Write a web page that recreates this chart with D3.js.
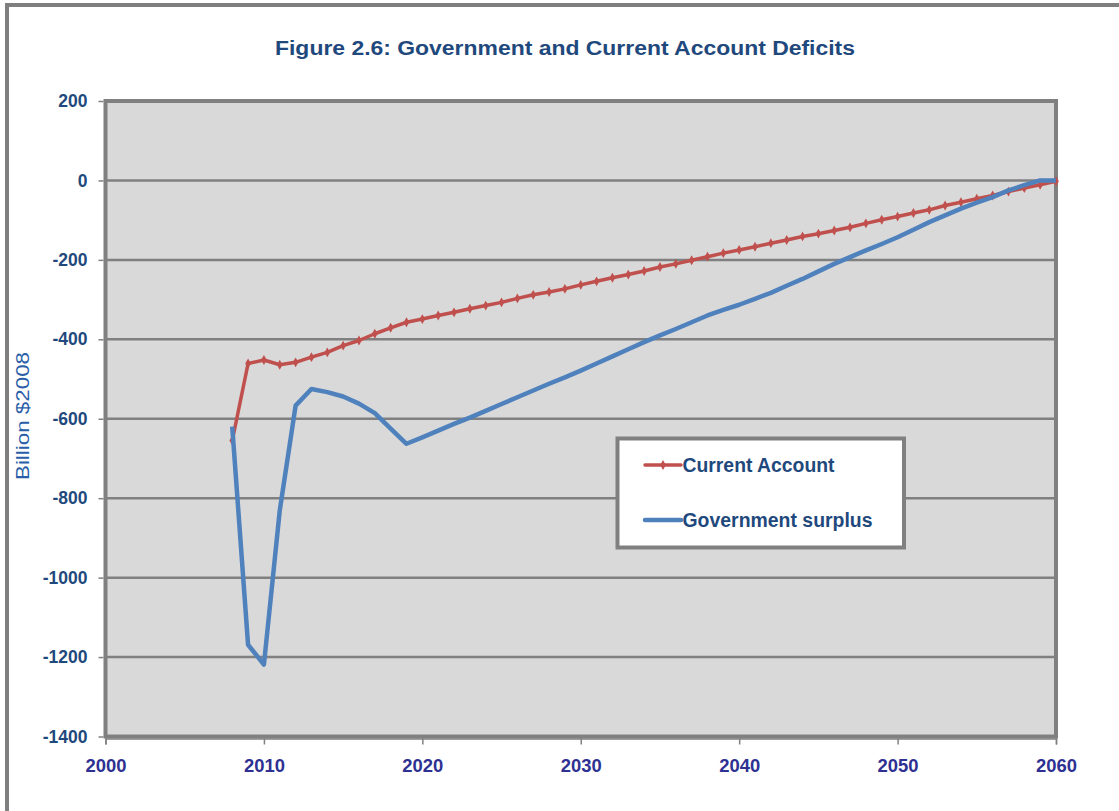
<!DOCTYPE html>
<html>
<head>
<meta charset="utf-8">
<script src="https://cdn.jsdelivr.net/npm/d3@7"></script>
<style>
html,body{margin:0;padding:0;background:#fff;}
svg{display:block;}
text{font-family:"Liberation Sans",Arial,sans-serif;}
</style>
</head>
<body>
<svg id="chart" width="1119" height="811"></svg>
<script>
const title = "Figure 2.6: Government and Current Account Deficits";
const yAxisTitle = "Billion $2008";
const seriesNames = ["Current Account", "Government surplus"];
const years = d3.range(2008, 2061);
const currentAccount = [
  -655, -461, -452, -464, -458, -445, -433, -416, -403, -386,
  -371, -357, -349, -340, -332, -323, -315, -307, -297, -288,
  -281, -273, -263, -254, -245, -237, -228, -218, -210, -201,
  -192, -183, -175, -167, -158, -150, -141, -134, -126, -118,
  -108, -99, -91, -82, -74, -63, -55, -46, -38, -28,
  -19, -11, -2
];
const govSurplus = [
  -620, -1169, -1219, -831, -567, -525, -533, -544, -562, -586,
  -625, -663, -647, -630, -613, -597, -580, -563, -546, -529,
  -512, -496, -479, -461, -443, -425, -407, -390, -374, -357,
  -340, -326, -313, -298, -283, -265, -248, -229, -210, -193,
  -176, -160, -143, -124, -105, -88, -71, -56, -42, -25,
  -12, 0, 0
];
const xTicks = [2000, 2010, 2020, 2030, 2040, 2050, 2060];
const yTicks = [200, 0, -200, -400, -600, -800, -1000, -1200, -1400];

const svg = d3.select("#chart");
const plot = {left: 105.5, right: 1056, top: 101, bottom: 736.5};
const x = d3.scaleLinear().domain([2000, 2060]).range([plot.left, plot.right]);
const y = d3.scaleLinear().domain([-1400, 200]).range([plot.bottom, plot.top]);

// outer chart frame
svg.append("rect").attr("x", 7).attr("y", 5).attr("width", 1300).attr("height", 1000)
  .attr("fill", "#fff").attr("stroke", "#7f7f7f").attr("stroke-width", 4);

// title
svg.append("text").attr("x", 565).attr("y", 55).attr("text-anchor", "middle")
  .attr("font-size", 19.5).attr("font-weight", "bold").attr("fill", "#1f497d")
  .attr("textLength", 580).attr("lengthAdjust", "spacingAndGlyphs")
  .text(title);

// plot background
svg.append("rect").attr("x", plot.left).attr("y", plot.top)
  .attr("width", plot.right - plot.left).attr("height", plot.bottom - plot.top)
  .attr("fill", "#d9d9d9");

// gridlines
svg.append("g").selectAll("line").data(yTicks).join("line")
  .attr("x1", plot.left).attr("x2", plot.right)
  .attr("y1", d => y(d)).attr("y2", d => y(d))
  .attr("stroke", "#808080").attr("stroke-width", 2.5);

// plot border
svg.append("rect").attr("x", plot.left).attr("y", plot.top)
  .attr("width", plot.right - plot.left).attr("height", plot.bottom - plot.top)
  .attr("fill", "none").attr("stroke", "#808080").attr("stroke-width", 4);

// y axis
const yAxis = d3.axisLeft(y).tickValues(yTicks).tickSize(5).tickPadding(11).tickFormat(d3.format("d"));
const gy = svg.append("g").attr("transform", `translate(${plot.left - 2},0)`).call(yAxis);
gy.select(".domain").remove();
gy.selectAll(".tick line").attr("stroke", "#808080").attr("stroke-width", 1.5);
gy.selectAll(".tick text").attr("font-size", 17.5).attr("font-weight", "bold")
  .attr("fill", "#1f497d").attr("font-family", "Liberation Sans, Arial, sans-serif")
  .text(d => d < 0 ? "-" + Math.abs(d) : String(d));

// x axis
const xAxis = d3.axisBottom(x).tickValues(xTicks).tickSize(6).tickPadding(14).tickFormat(d3.format("d"));
const gx = svg.append("g").attr("transform", `translate(0,${plot.bottom + 2})`).call(xAxis);
gx.select(".domain").attr("stroke", "#808080").attr("stroke-width", 1.5);
gx.selectAll(".tick line").attr("stroke", "#808080").attr("stroke-width", 1.5);
gx.selectAll(".tick text").attr("font-size", 19).attr("font-weight", "bold")
  .attr("fill", "#2e3192").attr("font-family", "Liberation Sans, Arial, sans-serif")
  .attr("textLength", 41).attr("lengthAdjust", "spacingAndGlyphs");

// y axis title
svg.append("text").attr("transform", "translate(29,416) rotate(-90)")
  .attr("text-anchor", "middle").attr("font-size", 18).attr("fill", "#2a5ea8")
  .attr("textLength", 128).attr("lengthAdjust", "spacingAndGlyphs")
  .text(yAxisTitle);

// lines
const caData = years.map((yr, i) => ({year: yr, v: currentAccount[i]}));
const gsData = years.map((yr, i) => ({year: yr, v: govSurplus[i]}));
const line = d3.line().x(d => x(d.year)).y(d => y(d.v));

svg.append("path").datum(caData).attr("d", line).attr("fill", "none")
  .attr("stroke", "#c0504d").attr("stroke-width", 3.5).attr("stroke-linejoin", "round");
const diamond = d3.symbol().type(d3.symbolDiamond).size(28);
svg.append("g").selectAll("path").data(caData).join("path")
  .attr("d", diamond).attr("transform", d => `translate(${x(d.year)},${y(d.v)})`)
  .attr("fill", "#c0504d");

svg.append("path").datum(gsData).attr("d", line).attr("fill", "none")
  .attr("stroke", "#4f81bd").attr("stroke-width", 4.5).attr("stroke-linejoin", "round");

// legend
const lg = svg.append("g");
lg.append("rect").attr("x", 617.5).attr("y", 438.5).attr("width", 286.5).attr("height", 109)
  .attr("fill", "#fff").attr("stroke", "#808080").attr("stroke-width", 4);
const legendItems = [
  {name: seriesNames[0], color: "#c0504d", w: 3.5, marker: true, y: 465, len: 152},
  {name: seriesNames[1], color: "#4f81bd", w: 4.5, marker: false, y: 520, len: 190}
];
legendItems.forEach(it => {
  lg.append("line").attr("x1", 645).attr("x2", 681).attr("y1", it.y).attr("y2", it.y)
    .attr("stroke", it.color).attr("stroke-width", it.w).attr("stroke-linecap", "round");
  if (it.marker) {
    lg.append("path").attr("d", diamond).attr("transform", `translate(663,${it.y})`).attr("fill", it.color);
  }
  lg.append("text").attr("x", 682.5).attr("y", it.y + 7).attr("font-size", 19.5)
    .attr("font-weight", "bold").attr("fill", "#1f497d")
    .attr("textLength", it.len).attr("lengthAdjust", "spacingAndGlyphs")
    .text(it.name);
});
</script>
</body>
</html>
